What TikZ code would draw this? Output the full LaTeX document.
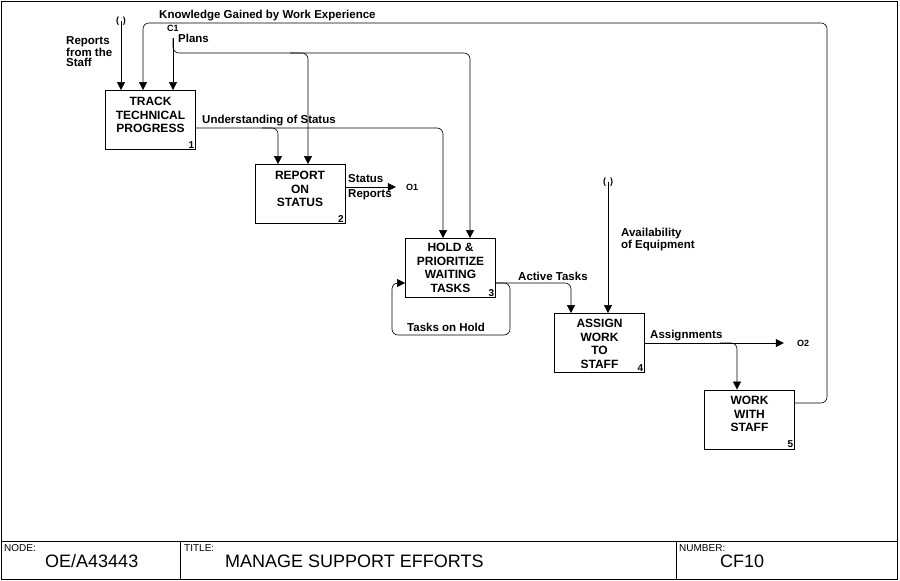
\documentclass[tikz,border=0pt]{standalone}
\usepackage{fontspec}
\setmainfont{Liberation Sans}
\usetikzlibrary{arrows.meta}
\begin{document}
\begin{tikzpicture}[x=1pt,y=-1pt,
  every node/.style={inner sep=0pt, font=\bfseries\fontsize{11.5}{11}\selectfont},
  act/.style={draw, line width=0.8pt, minimum width=90pt, minimum height=59pt},
  acttext/.style={align=center, font=\bfseries\fontsize{12}{13.5}\selectfont},
  num/.style={anchor=south east, font=\bfseries\fontsize{10}{10}\selectfont, inner sep=1.5pt},
  flow/.style={line width=0.6pt, rounded corners=6pt},
  arr/.style={flow, -{Triangle[length=8pt,width=8pt]}},
  lbl/.style={font=\bfseries\fontsize{11.5}{10.5}\selectfont, align=left},
  tinylbl/.style={font=\bfseries\fontsize{9}{9}\selectfont},
  frame/.style={line width=0.8pt},
  cellhead/.style={anchor=north west, font=\fontsize{10}{10}\selectfont},
  cellbody/.style={anchor=base west, font=\fontsize{18}{18}\selectfont},
]
\useasboundingbox (0,0) rectangle (900,581);

% frame and title bar
\draw[frame] (1,1) rectangle (897,579);
\coordinate (tb0) at (1,541);
\coordinate (tb1) at (897,541);
\draw[frame] (tb0) -- (tb1);
\coordinate (v1a) at (180,541);
\coordinate (v1b) at (180,579);
\coordinate (v2a) at (676,541);
\coordinate (v2b) at (676,579);
\draw[frame] (v1a) -- (v1b);
\draw[frame] (v2a) -- (v2b);
\node[cellhead] (nodeh) at (4,544) {NODE:};
\node[cellbody] (nodeb) at (45,567) {OE/A43443};
\node[cellhead] (titleh) at (184,544) {TITLE:};
\node[cellbody] (titleb) at (225,567) {MANAGE SUPPORT EFFORTS};
\node[cellhead] (numh) at (679,544) {NUMBER:};
\node[cellbody] (numb) at (720,567) {CF10};

% activity boxes
\node[act] (b1) at (150.5,120) {};
\node[acttext] (b1t) at (150.5,115) {TRACK\\TECHNICAL\\PROGRESS};
\node[num] (b1n) at (b1.south east) {1};

\node[act] (b2) at (300,194) {};
\node[acttext] (b2t) at (300,189) {REPORT\\ON\\STATUS};
\node[num] (b2n) at (b2.south east) {2};

\node[act] (b3) at (450.5,268) {};
\node[acttext] (b3t) at (450.5,268) {HOLD \&\\PRIORITIZE\\WAITING\\TASKS};
\node[num] (b3n) at (b3.south east) {3};

\node[act] (b4) at (599.5,343) {};
\node[acttext] (b4t) at (599.5,344) {ASSIGN\\WORK\\TO\\STAFF};
\node[num] (b4n) at (b4.south east) {4};

\node[act] (b5) at (749.5,419.5) {};
\node[acttext] (b5t) at (749.5,414) {WORK\\WITH\\STAFF};
\node[num] (b5n) at (b5.south east) {5};

% Reports from the Staff
\node[tinylbl] (t1) at (121,21) {(\hspace{4pt})};
\draw[arr] (t1.center) -- (t1.center |- b1.north);
\node[lbl, anchor=north west] (rl) at (66,36.5) {Reports\\from the\\Staff};

% Knowledge Gained by Work Experience
\coordinate (k1) at (827,23);
\draw[arr] ([yshift=16.5pt]b5.east) -| (k1) -| ([xshift=-7.5pt]b1.north);
\node[lbl, anchor=base west] (kl) at (159,18) {Knowledge Gained by Work Experience};

% Plans
\node[tinylbl] (c1) at (173,28) {C1};
\coordinate (p0) at (173,38);
\coordinate (p1) at (470,53);
\coordinate (p2) at (290,53);
\draw[arr] (p0) -- ([xshift=22.5pt]b1.north);
\draw[arr] (p0) |- (p1) -- ([xshift=19.5pt]b3.north);
\draw[arr] (p2) -| ([xshift=8pt]b2.north);
\node[lbl, anchor=base west] (pl) at (178,42) {Plans};

% Understanding of Status
\coordinate (u2) at (262,128);
\draw[arr] ([yshift=-8pt]b1.east) -| ([xshift=-7.5pt]b3.north);
\draw[arr] (u2) -| ([xshift=-22pt]b2.north);
\node[lbl, anchor=base west] (ul) at (202,123) {Understanding of Status};

% Status Reports
\node[tinylbl] (o1) at (412,187) {O1};
\draw[arr] ([yshift=7pt]b2.east) -- ([xshift=-10pt]o1.west);
\node[lbl, anchor=base west] (sl1) at (348,182) {Status};
\node[lbl, anchor=base west] (sl2) at (348,197) {Reports};

% Active Tasks
\draw[arr] ([yshift=-15pt]b3.east) -| ([xshift=-28.5pt]b4.north);
\node[lbl, anchor=base west] (al) at (518,280) {Active Tasks};

% Tasks on Hold
\coordinate (h1) at (510,335);
\coordinate (h2) at (392,283);
\draw[arr] ([yshift=-15pt]b3.east) -| (h1) -| (h2) -- ([yshift=-15pt]b3.west);
\node[lbl, anchor=base west] (hl) at (407,331) {Tasks on Hold};

% Availability of Equipment
\node[tinylbl] (t2) at (608,182) {(\hspace{4pt})};
\draw[arr] (t2.center) -- (t2.center |- b4.north);
\node[lbl, anchor=north west] (el) at (621,228) {Availability\\of Equipment};

% Assignments
\node[tinylbl] (o2) at (803,343) {O2};
\coordinate (a1) at (720,343);
\draw[arr] (b4.east) -- ([xshift=-13pt]o2.west);
\draw[arr] (a1) -| ([xshift=-12.5pt]b5.north);
\node[lbl, anchor=base west] (asl) at (650,338) {Assignments};
\end{tikzpicture}
\end{document}
